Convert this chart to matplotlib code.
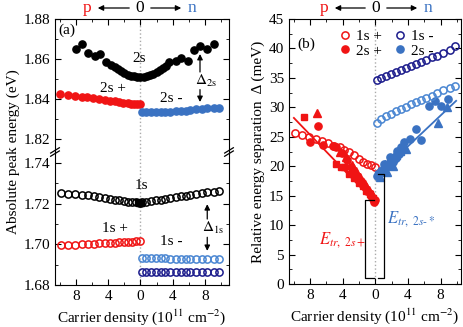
import matplotlib
matplotlib.use('Agg')
import matplotlib.pyplot as plt

plt.rcParams['font.family'] = ['Liberation Serif', 'DejaVu Serif']
plt.rcParams['mathtext.fontset'] = 'stix'
plt.rcParams['font.size'] = 11

# ---- data: panel (a) ----
x_p = [-9.9, -9.0, -8.1, -7.3, -6.5, -5.8, -5.1, -4.4, -3.8, -3.2, -2.6, -2.0, -1.5, -1.0, -0.5, -0.1]
x_n = [0.2, 0.7, 1.3, 1.9, 2.5, 3.1, 3.7, 4.4, 5.0, 5.6, 6.2, 6.9, 7.6, 8.3, 9.1, 9.8]

x_2s = [-8.0, -7.25, -6.5, -5.6, -5.0, -4.25, -3.7, -3.2, -2.8, -2.4, -2.0, -1.6, -1.2, -0.8, -0.4, 0.0,
        0.4, 0.8, 1.2, 1.6, 2.0, 2.4, 2.8, 3.2, 3.6, 4.4, 5.1, 5.9, 6.6, 7.4, 8.25, 9.1]
e_2s = [1.8650, 1.8675, 1.8630, 1.8615, 1.8625, 1.8585, 1.8570, 1.8560, 1.8550, 1.8540, 1.8530, 1.8522,
        1.8517, 1.8513, 1.8511, 1.8510, 1.8511, 1.8514, 1.8519, 1.8526, 1.8535, 1.8545, 1.8555, 1.8567,
        1.8585, 1.8590, 1.8605, 1.8590, 1.8645, 1.8665, 1.8650, 1.8675]
x_2s_p = [-10.0, -9.0, -8.1, -7.3, -6.6, -5.9, -5.1, -4.4, -3.8, -3.2, -2.6, -2.1, -1.6, -1.2, -0.8, -0.4, -0.06]
e_2s_p = [1.8424, 1.8420, 1.8415, 1.8412, 1.8408, 1.8404, 1.8400, 1.8396, 1.8392, 1.8388, 1.8385, 1.8382,
          1.8379, 1.8377, 1.8375, 1.8374, 1.8373]
e_2s_n = [1.8333, 1.8333, 1.8333, 1.8333, 1.8334, 1.8335, 1.8336, 1.8338, 1.8340, 1.8342, 1.8345, 1.8348,
          1.8350, 1.8353, 1.8355, 1.8357]

e_1s_left = [1.7252, 1.7250, 1.7247, 1.7244, 1.7241, 1.7237, 1.7233, 1.7229, 1.7225, 1.7221, 1.7217,
             1.7214, 1.7211, 1.7209, 1.7207, 1.7206]
e_1s_right = [1.7208, 1.7211, 1.7214, 1.7217, 1.7221, 1.7224, 1.7228, 1.7232, 1.7236, 1.7240, 1.7244,
              1.7248, 1.7252, 1.7256, 1.7260, 1.7264]
x_1s_0 = [-0.3, -0.15, 0.0, 0.1]
e_1s_0 = [1.7207, 1.7205, 1.7204, 1.7206]
e_1s_p = [1.6996, 1.6998, 1.6999, 1.7001, 1.7002, 1.7004, 1.7005, 1.7006, 1.7008, 1.7009, 1.7010,
          1.7012, 1.7013, 1.7014, 1.7015, 1.7016]
e_1s_n_light = [1.6933, 1.6932, 1.6932, 1.6931, 1.6931, 1.6931, 1.6930, 1.6930, 1.6930, 1.6930, 1.6929,
                1.6929, 1.6929, 1.6929, 1.6929, 1.6929]
e_1s_n_dark = [1.6864] * 16

# ---- data: panel (b) ----
d_1s_p = [25.7, 25.3, 24.9, 24.6, 24.2, 23.9, 23.5, 23.2, 22.8, 22.4, 21.9, 21.3, 20.7, 20.4, 20.2, 19.9]
d_1s_n_dark = [34.6, 35.0, 35.3, 35.6, 36.0, 36.3, 36.7, 37.0, 37.4, 37.7, 38.1, 38.5, 38.8, 39.3, 39.8, 40.4]
d_1s_n_light = [27.4, 28.1, 28.5, 28.9, 29.3, 29.7, 30.1, 30.5, 30.9, 31.3, 31.6, 32.0, 32.4, 32.9, 33.3, 33.6]

p_circ_x = [-8.0, -7.0, -6.4, -5.2, -4.8, -4.1, -3.5, -3.0, -2.6, -2.2, -1.8, -1.4, -1.0, -0.6, -0.3, 0.0, -0.2]
p_circ_y = [24.1, 26.8, 23.6, 23.4, 23.3, 22.3, 21.0, 19.8, 19.0, 18.3, 17.5, 16.6, 15.8, 15.0, 14.5, 14.2, 14.0]
p_sq_x = [-8.8, -4.8, -4.2, -3.9, -3.2, -2.6, -2.0, -1.5, -1.1, -0.7, -0.3]
p_sq_y = [28.3, 20.3, 19.9, 19.8, 18.6, 18.0, 17.2, 16.6, 15.8, 15.2, 14.6]
p_tri_x = [-7.2, -4.3, -3.6, -2.9, -2.4, -1.9, -1.3, -0.8, -0.4]
p_tri_y = [29.0, 22.5, 21.5, 20.2, 19.2, 18.2, 17.0, 16.0, 15.2]

n_circ_x = [0.2, 0.5, 0.9, 1.3, 1.7, 2.1, 2.5, 2.9, 3.5, 4.3, 5.0, 5.6, 6.6, 7.3, 8.1, 8.9,
            1.0, 1.8, 2.6, 3.2]
n_circ_y = [18.3, 18.9, 19.3, 19.8, 20.3, 20.8, 21.4, 22.0, 24.1, 24.6, 26.4, 24.5, 30.2, 31.0, 30.2, 31.5,
            20.4, 21.5, 22.6, 23.2]
n_sq_x = [0.3, 0.7, 1.1, 1.5, 1.9, 2.3, 2.7, 3.1]
n_sq_y = [18.6, 19.0, 19.6, 20.0, 20.6, 21.2, 21.8, 22.4]
n_tri_x = [0.4, 0.8, 1.2, 1.6, 2.0, 2.4, 3.8, 7.7, 8.8, 0.6, 1.4, 2.2]
n_tri_y = [19.2, 19.7, 20.3, 20.8, 21.4, 22.0, 23.0, 27.4, 30.1, 18.2, 19.1, 20.1]

fit_p_x = [-10.0, 0.0]
fit_p_y = [28.2, 13.8]
fit_n_x = [0.1, 9.9]
fit_n_y = [18.3, 31.1]

red = '#f01414'
blue = '#3a72c2'
light = '#4a86d2'
navy = '#1c1c8c'

W, H = 463, 327
fs = 11
fig = plt.figure(figsize=(W / 100, H / 100), dpi=100)


def box(l, t, r, b):
    return [l / W, 1 - b / H, (r - l) / W, (b - t) / H]


ax_up = fig.add_axes(box(55, 19, 229, 152))
ax_lo = fig.add_axes(box(55, 152, 229, 285))
ax_b = fig.add_axes(box(289, 19, 461, 284))

ms = 5.2
# upper part of (a)
ax_up.plot(x_2s, e_2s, 'o', color='black', ms=ms)
ax_up.plot(x_2s_p, e_2s_p, 'o', color=red, ms=ms)
ax_up.plot(x_n, e_2s_n, 'o', color=blue, ms=ms)
# lower part of (a)
ax_lo.plot(x_p, e_1s_left, 'o', mfc='none', mec='black', mew=1.1, ms=ms)
ax_lo.plot(x_n, e_1s_right, 'o', mfc='none', mec='black', mew=1.1, ms=ms)
ax_lo.plot(x_1s_0, e_1s_0, 's', color='black', ms=4)
ax_lo.plot(x_p, e_1s_p, 'o', mfc='none', mec=red, mew=1.1, ms=ms)
ax_lo.plot(x_n, e_1s_n_light, 'o', mfc='none', mec=light, mew=1.1, ms=ms)
ax_lo.plot(x_n, e_1s_n_dark, 'o', mfc='none', mec=navy, mew=1.1, ms=ms)

for ax in (ax_up, ax_lo):
    ax.set_xlim(-10.6, 11.0)
    ax.axvline(0, color='#aaaaaa', ls=':', lw=1.0, zorder=0)
    ax.set_xticks([-8, -4, 0, 4, 8])
    ax.set_xticks([-10, -6, -2, 2, 6, 10], minor=True)
    ax.tick_params(which='both', direction='in', right=True, labelsize=fs)
    ax.tick_params(which='major', length=4)
    ax.tick_params(which='minor', length=2)

ax_up.set_ylim(1.8135, 1.88)
ax_up.set_yticks([1.82, 1.84, 1.86, 1.88])
ax_up.set_yticks([1.83, 1.85, 1.87], minor=True)
ax_up.yaxis.set_major_formatter(matplotlib.ticker.FormatStrFormatter('%.2f'))
ax_up.spines['bottom'].set_visible(False)
ax_up.tick_params(which='both', bottom=False, top=True, labelbottom=False)

ax_lo.set_ylim(1.68, 1.7455)
ax_lo.set_yticks([1.68, 1.70, 1.72, 1.74])
ax_lo.set_yticks([1.69, 1.71, 1.73], minor=True)
ax_lo.yaxis.set_major_formatter(matplotlib.ticker.FormatStrFormatter('%.2f'))
ax_lo.spines['top'].set_visible(False)
ax_lo.tick_params(which='both', top=False)
ax_lo.set_xticklabels(['8', '4', '0', '4', '8'])
ax_lo.set_xlabel('Carrier density (10$^{11}$ cm$^{-2}$)', fontsize=fs, labelpad=3)

# break marks
for xa in (0, 1):
    for dy in (-0.012, 0.012):
        ax_lo.plot([xa - 0.025, xa + 0.025], [1 + dy - 0.02, 1 + dy + 0.02], color='black', lw=0.9,
                   transform=ax_lo.transAxes, clip_on=False)

# annotations (a)
ax_up.text(0.02, 0.89, '(a)', transform=ax_up.transAxes, fontsize=fs)
ax_up.text(-0.2, 1.8605, '2s', ha='center', va='center', fontsize=fs)
ax_up.text(-3.4, 1.8452, '2s +', ha='center', va='center', fontsize=fs)
ax_up.text(3.8, 1.8402, '2s -', ha='center', va='center', fontsize=fs)
ax_up.text(8.1, 1.849, r'$\Delta_{\mathrm{2s}}$', ha='center', va='center', fontsize=fs)
ax_up.annotate('', xy=(7.4, 1.8625), xytext=(7.4, 1.8535),
               arrowprops=dict(arrowstyle='-|>', color='black', lw=0.9, mutation_scale=8, shrinkA=0, shrinkB=0))
ax_up.annotate('', xy=(7.4, 1.8385), xytext=(7.4, 1.8447),
               arrowprops=dict(arrowstyle='-|>', color='black', lw=0.9, mutation_scale=8, shrinkA=0, shrinkB=0))

ax_lo.text(0.1, 1.7288, '1s', ha='center', va='center', fontsize=fs)
ax_lo.text(-3.1, 1.7076, '1s +', ha='center', va='center', fontsize=fs)
ax_lo.text(3.8, 1.7013, '1s -', ha='center', va='center', fontsize=fs)
ax_lo.text(9.0, 1.708, r'$\Delta_{\mathrm{1s}}$', ha='center', va='center', fontsize=fs)
ax_lo.annotate('', xy=(8.3, 1.7198), xytext=(8.3, 1.7125),
               arrowprops=dict(arrowstyle='-|>', color='black', lw=0.9, mutation_scale=8, shrinkA=0, shrinkB=0))
ax_lo.annotate('', xy=(8.3, 1.6968), xytext=(8.3, 1.7035),
               arrowprops=dict(arrowstyle='-|>', color='black', lw=0.9, mutation_scale=8, shrinkA=0, shrinkB=0))

fig.text(13 / W, 1 - 152 / H, 'Absolute peak energy (eV)', rotation=90, ha='center', va='center', fontsize=fs)

# ---- panel (b) ----
ax_b.plot(x_p, d_1s_p, 'o', mfc='none', mec=red, mew=1.1, ms=ms, label='1s +')
ax_b.plot(p_circ_x, p_circ_y, 'o', color=red, ms=ms, label='2s +')
ax_b.plot(p_sq_x, p_sq_y, 's', color=red, ms=ms - 0.5)
ax_b.plot(p_tri_x, p_tri_y, '^', color=red, ms=ms)
ax_b.plot(fit_p_x, fit_p_y, '-', color=red, lw=1.3)
ax_b.plot(x_n, d_1s_n_dark, 'o', mfc='none', mec=navy, mew=1.1, ms=ms, label='1s -')
ax_b.plot(n_circ_x, n_circ_y, 'o', color=blue, ms=ms, label='2s -')
ax_b.plot(n_sq_x, n_sq_y, 's', color=blue, ms=ms - 0.5)
ax_b.plot(n_tri_x, n_tri_y, '^', color=blue, ms=ms)
ax_b.plot(fit_n_x, fit_n_y, '-', color=blue, lw=1.3)
ax_b.plot(x_n, d_1s_n_light, 'o', mfc='none', mec=light, mew=1.1, ms=ms)

ax_b.axvline(0, color='#aaaaaa', ls=':', lw=1.0, zorder=0)
ax_b.set_xlim(-10.6, 10.5)
ax_b.set_ylim(0, 45)
ax_b.set_xticks([-8, -4, 0, 4, 8])
ax_b.set_xticklabels(['8', '4', '0', '4', '8'])
ax_b.set_xticks([-10, -6, -2, 2, 6, 10], minor=True)
ax_b.set_yticks(range(0, 46, 5))
ax_b.set_yticks([2.5 + 5 * i for i in range(9)], minor=True)
ax_b.tick_params(which='both', direction='in', top=True, right=True, labelsize=fs)
ax_b.tick_params(which='major', length=4)
ax_b.tick_params(which='minor', length=2)
ax_b.set_xlabel('Carrier density (10$^{11}$ cm$^{-2}$)', fontsize=fs, labelpad=3)
ax_b.set_ylabel('Relative energy separation  \u0394 (meV)', fontsize=fs, labelpad=3)
ax_b.text(0.05, 0.89, '(b)', transform=ax_b.transAxes, fontsize=fs)

ax_b.legend(loc='upper left', bbox_to_anchor=(0.23, 1.0), ncol=2, frameon=False, fontsize=fs,
            handlelength=0.8, handletextpad=0.3, columnspacing=0.8, labelspacing=0.05, borderaxespad=0.3)

# brackets
ax_b.plot([-0.2, -1.3, -1.3, -0.2], [14.2, 14.2, 1.0, 1.0], color='black', lw=0.9)
ax_b.plot([0.3, 1.1, 1.1, 0.3], [18.6, 18.6, 1.0, 1.0], color='black', lw=0.9)
ax_b.text(-4.0, 7.5, r'$E_{tr,\ 2s+}$', color=red, ha='center', va='center', fontsize=12)
ax_b.text(4.4, 11.0, r'$E_{tr,\ 2s\text{-}*}$', color=blue, ha='center', va='center', fontsize=12)

# top p <- 0 -> n arrows
for (xp, x0, xn) in ((87, 140, 192), (324, 376, 428)):
    ty = 1 - 8 / H
    fig.text(xp / W, ty, 'p', color=red, ha='center', va='center', fontsize=12.5)
    fig.text(x0 / W, ty, '0', color='black', ha='center', va='center', fontsize=12.5)
    fig.text(xn / W, ty, 'n', color=blue, ha='center', va='center', fontsize=12.5)
    for a, b in ((x0 - 8, xp + 8), (x0 + 8, xn - 8)):
        fig.add_artist(matplotlib.patches.FancyArrowPatch((a / W, ty), (b / W, ty), transform=fig.transFigure,
                                                          arrowstyle='-|>', mutation_scale=8, lw=0.9,
                                                          color='black'))

fig.savefig('out.png', dpi=100)
